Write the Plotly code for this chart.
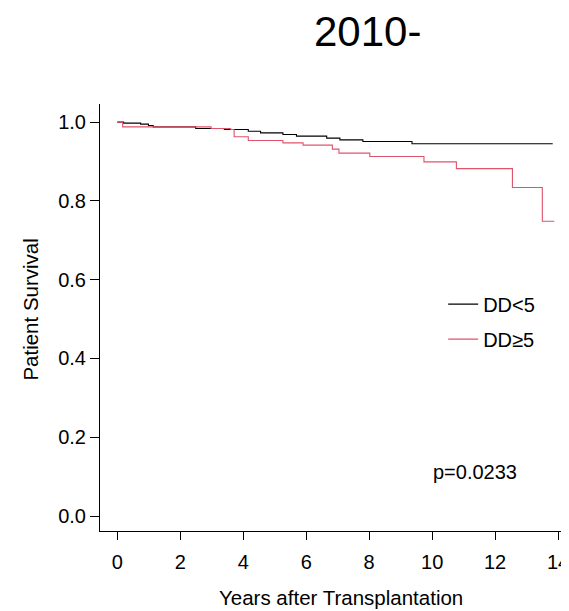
import plotly.graph_objects as go

# Kaplan-Meier estimates
dd_lt5_time = [0, 0.20, 0.74, 0.99, 1.14, 2.49, 3.40, 4.16, 4.55, 5.26, 5.69, 6.65, 7.07, 7.80, 9.36, 13.83]
dd_lt5_surv = [1.0, 0.9974, 0.995, 0.9914, 0.988, 0.9838, 0.9813, 0.977, 0.9728, 0.9686, 0.9644, 0.9593, 0.955, 0.9508, 0.945, 0.945]

dd_ge5_time = [0, 0.17, 2.98, 3.60, 3.71, 4.16, 5.26, 5.90, 6.83, 7.04, 8.02, 9.74, 10.77, 12.55, 13.50, 13.88]
dd_ge5_surv = [1.0, 0.988, 0.9838, 0.9813, 0.963, 0.9534, 0.9474, 0.9415, 0.9314, 0.9212, 0.9127, 0.899, 0.882, 0.834, 0.7485, 0.7485]

x_ticks = [0, 2, 4, 6, 8, 10, 12, 14]
y_ticks = [0.0, 0.2, 0.4, 0.6, 0.8, 1.0]
y_tick_labels = ["0.0", "0.2", "0.4", "0.6", "0.8", "1.0"]

series_names = ["DD&lt;5", "DD≥5"]
title_text = "2010-"
p_text = "p=0.0233"

FONT = "Liberation Sans, Arial, sans-serif"

fig = go.Figure()
fig.add_trace(go.Scatter(x=dd_lt5_time, y=dd_lt5_surv, mode="lines", line_shape="hv",
                         line=dict(color="#000000", width=1.1), name=series_names[0],
                         legendgroup="a"))
fig.add_trace(go.Scatter(x=dd_ge5_time, y=dd_ge5_surv, mode="lines", line_shape="hv",
                         line=dict(color="#DF536B", width=1.1), name=series_names[1],
                         legendgroup="b"))

# page has an 8px body margin, so the figure is 8px smaller than the window
fig.update_layout(
    width=561, height=603,
    margin=dict(l=92, r=0, t=96, b=80, pad=0),
    plot_bgcolor="white", paper_bgcolor="white",
    font=dict(family=FONT, size=20, color="#000000"),
    showlegend=True,
    legend=dict(x=0.738, y=0.577, xanchor="left", yanchor="top",
                bgcolor="rgba(0,0,0,0)", borderwidth=0,
                font=dict(size=20), tracegroupgap=6, itemwidth=30),
    xaxis=dict(range=[-0.55, 14.22], tickvals=x_ticks, showgrid=False, zeroline=False,
               showline=True, linecolor="#000000", linewidth=1,
               ticks="outside", ticklen=8, tickcolor="#000000", tickwidth=1,
               ticklabelstandoff=5, ticklabeloverflow="allow"),
    yaxis=dict(range=[-0.038, 1.046], tickvals=y_ticks, ticktext=y_tick_labels,
               showgrid=False, zeroline=False,
               showline=True, linecolor="#000000", linewidth=1,
               ticks="outside", ticklen=9, tickcolor="#000000", tickwidth=1),
    annotations=[
        dict(text=title_text, xref="paper", yref="paper", x=0.576, y=1.1698,
             xanchor="center", yanchor="middle", showarrow=False,
             font=dict(size=42, family=FONT)),
        dict(text=p_text, xref="paper", yref="paper", x=0.8075, y=0.138,
             xanchor="center", yanchor="middle", showarrow=False,
             font=dict(size=20, family=FONT)),
        dict(text="Years after Transplantation", xref="paper", yref="paper",
             x=(343 - 100) / 469, y=(531 - 597) / 427,
             xanchor="center", yanchor="middle", showarrow=False,
             font=dict(size=20.5, family=FONT)),
        dict(text="Patient Survival", xref="paper", yref="paper",
             x=(29 - 100) / 469, y=(531 - 310) / 427, textangle=-90,
             xanchor="center", yanchor="middle", showarrow=False,
             font=dict(size=20.5, family=FONT)),
    ],
)

fig.write_html("out.html")
